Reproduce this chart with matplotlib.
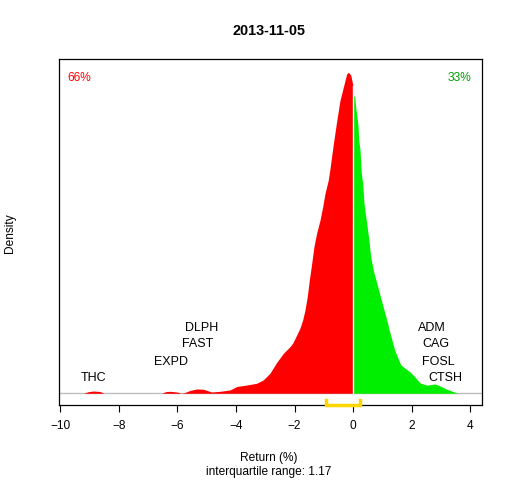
import matplotlib
matplotlib.use("Agg")
import matplotlib.pyplot as plt

plt.rcParams["font.family"] = ["Liberation Sans", "DejaVu Sans"]

# density of daily returns (return %, density)
red_x = [-9.20, -9.05, -8.87, -8.64, -8.51, -8.50, -6.54, -6.53, -6.39, -6.25, -6.01,
         -5.85, -5.74, -5.57, -5.34, -5.11, -4.83, -4.54, -4.20, -3.97, -3.63, -3.29,
         -3.07, -2.84, -2.61, -2.38, -2.154, -2.062, -1.926, -1.813, -1.721, -1.642,
         -1.564, -1.495, -1.413, -1.335, -1.243, -1.130, -1.038, -0.959, -0.847, -0.79,
         -0.68, -0.56, -0.45, -0.33, -0.22, -0.16, -0.08, -0.01, 0.0]
red_y = [0.0, 0.0026, 0.0039, 0.0031, 0.0, 0.0, 0.0, 0.0, 0.0029, 0.0034, 0.0022,
         0.0, 0.0014, 0.0048, 0.0074, 0.0069, 0.0022, 0.0034, 0.0057, 0.0117, 0.0142, 0.0172,
         0.0228, 0.0343, 0.0528, 0.0686, 0.080, 0.086, 0.100, 0.112, 0.126, 0.143,
         0.166, 0.194, 0.223, 0.252, 0.275, 0.297, 0.320, 0.343, 0.366, 0.385,
         0.426, 0.467, 0.502, 0.526, 0.548, 0.551, 0.546, 0.529, 0.527]
green_x = [0.0, 0.055, 0.099, 0.133, 0.167, 0.191, 0.236, 0.280, 0.328, 0.372, 0.417,
           0.464, 0.509, 0.553, 0.601, 0.645, 0.714, 0.782, 0.874, 0.963, 1.055, 1.147,
           1.236, 1.328, 1.420, 1.509, 1.625, 1.77, 1.94, 2.11, 2.28, 2.51, 2.80, 2.97,
           3.20, 3.48, 3.58]
green_y = [0.510, 0.510, 0.487, 0.475, 0.460, 0.435, 0.418, 0.378, 0.360, 0.326, 0.309,
           0.292, 0.275, 0.257, 0.234, 0.223, 0.206, 0.194, 0.177, 0.160, 0.143, 0.126,
           0.108, 0.091, 0.074, 0.063, 0.049, 0.043, 0.037, 0.028, 0.018, 0.014, 0.016,
           0.0125, 0.0069, 0.0017, 0.0]

q1, q3 = -0.94, 0.23
iqr = 1.17
pct_down, pct_up = "66%", "33%"

low_names = ["THC", "EXPD", "FAST", "DLPH"]
low_x = [-8.87, -6.23, -5.32, -5.18]
high_names = ["CTSH", "FOSL", "CAG", "ADM"]
high_x = [3.14, 2.91, 2.83, 2.69]
label_y = [0.0268, 0.0542, 0.084, 0.1126]

fig = plt.figure(figsize=(5.12, 4.8), dpi=100)
ax = fig.add_axes([0.1158, 0.15625, 0.825, 0.7202])

ax.axhline(0, color="#BEBEBE", lw=1, zorder=1)
ax.fill_between(red_x, red_y, 0, color="#FF0000", lw=0, zorder=2)
ax.fill_between(green_x, green_y, 0, color="#00EE00", lw=0, zorder=2)
ax.plot([0, 0], [0, red_y[-1]], color="white", lw=1, zorder=3)

# iqr bracket
ax.plot([q1, q1, q3, q3], [-0.0115, -0.0196, -0.0196, -0.0115], color="#FFD700",
        lw=2.5, solid_joinstyle="miter", zorder=4, clip_on=False)

for n, x, y in zip(low_names, low_x, label_y):
    ax.text(x, y, n, ha="center", va="center", fontsize=9)
for n, x, y in zip(high_names, high_x, label_y):
    ax.text(x, y, n, ha="center", va="center", fontsize=9)

ax.text(-9.35, 0.5406, pct_down, color="#FF0000", ha="center", va="center", fontsize=8.6)
ax.text(3.62, 0.5406, pct_up, color="#00A000", ha="center", va="center", fontsize=8.6)

ax.set_xlim(-10.03, 4.39)
ax.set_ylim(-0.0201, 0.5731)
ax.set_xticks(range(-10, 5, 2))
ax.set_yticks([])
ax.tick_params(axis="x", length=5, width=0.8, pad=6, labelsize=8.6)
for s in ax.spines.values():
    s.set_linewidth(0.9)

fig.text(269 / 512, 1 - 31 / 480, "2013-11-05", ha="center", va="center",
         fontsize=10.4, fontweight="bold")
fig.text(269 / 512, 1 - 457.7 / 480, "Return (%)", ha="center", va="center", fontsize=8.6)
fig.text(269 / 512, 1 - 472.3 / 480, "interquartile range: %.2f" % iqr,
         ha="center", va="center", fontsize=8.6)
fig.text(10 / 512, 1 - 233 / 480, "Density", rotation=90, ha="center", va="center",
         fontsize=8.6)

fig.savefig("out.png", dpi=100)
